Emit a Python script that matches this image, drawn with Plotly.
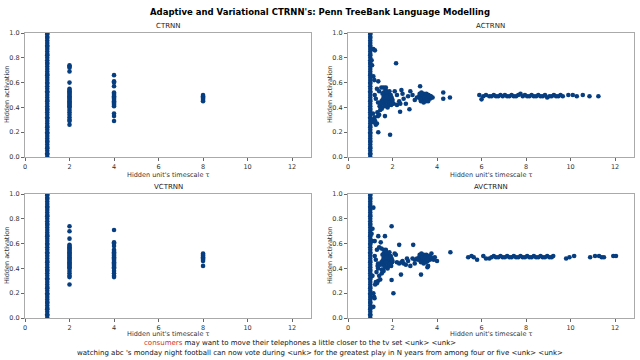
import plotly.graph_objects as go

# ---------------- data ----------------
titles = ["CTRNN", "ACTRNN", "VCTRNN", "AVCTRNN"]

# dense column of units at timescale 1 (all panels)
col_y = [0.00, 0.02, 0.03, 0.05, 0.07, 0.08, 0.10, 0.12, 0.13, 0.15, 0.17, 0.19, 0.20,
         0.22, 0.24, 0.25, 0.27, 0.29, 0.31, 0.32, 0.34, 0.36, 0.38, 0.39, 0.41, 0.43,
         0.45, 0.46, 0.48, 0.50, 0.52, 0.53, 0.55, 0.57, 0.59, 0.60, 0.62, 0.64, 0.66,
         0.67, 0.69, 0.71, 0.73, 0.75, 0.76, 0.78, 0.80, 0.82, 0.83, 0.85, 0.87, 0.89,
         0.90, 0.92, 0.94, 0.96, 0.97, 0.99, 1.00]

# CTRNN
ct_tau2_y = [0.74, 0.73, 0.72, 0.69, 0.60, 0.55, 0.54, 0.53, 0.52, 0.51, 0.50, 0.49, 0.48,
             0.47, 0.46, 0.45, 0.44, 0.43, 0.42, 0.41, 0.40, 0.38, 0.36, 0.34, 0.32, 0.30,
             0.29, 0.26]
ct_tau4_y = [0.66, 0.61, 0.60, 0.57, 0.52, 0.51, 0.50, 0.49, 0.48, 0.47, 0.46, 0.45, 0.44,
             0.43, 0.42, 0.41, 0.35, 0.33, 0.29]
ct_tau8_y = [0.50, 0.49, 0.48, 0.47, 0.46, 0.45]

# VCTRNN
vct_tau2_y = [0.74, 0.70, 0.64, 0.59, 0.58, 0.57, 0.56, 0.55, 0.54, 0.53, 0.52, 0.51, 0.50,
              0.49, 0.48, 0.47, 0.46, 0.45, 0.44, 0.43, 0.42, 0.41, 0.40, 0.38, 0.36, 0.34,
              0.33, 0.27]
vct_tau4_y = [0.71, 0.61, 0.60, 0.58, 0.55, 0.54, 0.53, 0.52, 0.51, 0.50, 0.49, 0.48, 0.47,
              0.46, 0.45, 0.44, 0.43, 0.42, 0.41, 0.40, 0.38, 0.36, 0.34, 0.33]
vct_tau8_y = [0.52, 0.51, 0.50, 0.49, 0.48, 0.47, 0.46, 0.42]

# ACTRNN (learned timescales)
act_tau = [1.14, 1.21, 1.06, 1.08, 1.14, 1.18, 1.36, 2.16, 1.89, 1.36, 3.24, 4.28, 4.28,
           4.58, 2.34, 2.76, 1.66, 6.00, 5.90,
           1.10, 1.15, 1.20, 1.25, 1.30, 1.35, 1.40, 1.45, 1.50, 1.12, 1.22, 1.32, 1.42,
           1.20, 1.30, 1.40, 1.50, 1.60, 1.70, 1.25, 1.35,
           1.55, 1.60, 1.65, 1.70, 1.75, 1.80, 1.85, 1.90, 1.95, 1.60, 1.65, 1.70, 1.75,
           1.80, 1.85, 1.90, 1.58, 1.68, 1.78, 1.88, 1.98, 1.62, 1.72, 1.82, 1.92, 1.50,
           1.55, 1.66, 1.76, 1.86, 1.96, 1.45, 1.52, 1.64, 1.74, 1.84, 1.94, 2.00, 1.70,
           2.10, 2.20, 2.30, 2.40, 2.45, 2.50, 2.60, 2.70, 2.80, 2.90, 3.00, 2.35, 2.20, 2.05,
           3.20, 3.25, 3.30, 3.35, 3.40, 3.45, 3.50, 3.55, 3.60, 3.65, 3.70, 3.75, 3.80,
           3.22, 3.28, 3.32, 3.38, 3.42, 3.48, 3.52, 3.58, 3.62, 3.68, 3.72, 3.30, 3.40,
           3.50, 3.60, 3.35, 3.45, 3.55, 3.25, 3.65, 3.10,
           6.08, 6.20, 6.35, 6.45, 6.55, 6.65, 6.75, 6.85, 6.95, 7.05, 7.15, 7.25, 7.35,
           7.45, 7.55, 7.65, 7.75, 7.85, 7.95, 8.05, 8.15, 8.25, 8.35, 8.45, 8.55, 8.65,
           8.75, 8.85, 8.95, 9.05, 9.15, 9.25, 9.35, 9.45, 9.55, 9.65, 9.90, 10.10, 10.28,
           10.55, 10.85, 11.25]
act_h = [0.87, 0.86, 0.78, 0.74, 0.65, 0.62, 0.61, 0.756, 0.18, 0.20, 0.57, 0.52, 0.47,
         0.48, 0.365, 0.385, 0.33, 0.465, 0.50,
         0.30, 0.28, 0.32, 0.26, 0.27, 0.33, 0.34, 0.38, 0.40, 0.35, 0.29, 0.36, 0.41,
         0.50, 0.55, 0.53, 0.56, 0.56, 0.56, 0.47, 0.44,
         0.46, 0.48, 0.44, 0.50, 0.45, 0.47, 0.43, 0.49, 0.46, 0.52, 0.42, 0.46, 0.48,
         0.51, 0.45, 0.44, 0.43, 0.54, 0.40, 0.47, 0.45, 0.49, 0.53, 0.42, 0.50, 0.45,
         0.51, 0.41, 0.47, 0.53, 0.48, 0.43, 0.39, 0.47, 0.49, 0.44, 0.42, 0.46, 0.45,
         0.53, 0.50, 0.45, 0.54, 0.51, 0.47, 0.43, 0.49, 0.53, 0.50, 0.46, 0.43, 0.42, 0.43,
         0.49, 0.47, 0.50, 0.48, 0.51, 0.46, 0.49, 0.47, 0.50, 0.48, 0.49, 0.48, 0.48,
         0.51, 0.45, 0.48, 0.50, 0.47, 0.49, 0.51, 0.46, 0.50, 0.47, 0.49, 0.52, 0.44,
         0.45, 0.45, 0.49, 0.48, 0.47, 0.47, 0.49, 0.48,
         0.49, 0.50, 0.49, 0.49, 0.50, 0.49, 0.49, 0.50, 0.49, 0.50, 0.49, 0.49, 0.50,
         0.49, 0.49, 0.50, 0.51, 0.49, 0.50, 0.49, 0.49, 0.50, 0.49, 0.49, 0.50, 0.49,
         0.49, 0.50, 0.48, 0.49, 0.49, 0.50, 0.49, 0.49, 0.50, 0.49, 0.50, 0.50, 0.49,
         0.50, 0.49, 0.49]

# AVCTRNN (learned timescales)
avct_tau = [1.14, 1.10, 1.06, 1.10, 1.20, 1.36, 1.66, 1.47, 1.96, 2.30, 2.93, 1.96, 2.04,
            1.14, 1.17, 1.19, 1.14, 1.10, 2.38, 3.28, 3.57, 4.60, 4.00, 3.00,
            1.30, 1.36, 1.45, 1.22, 1.52, 1.60, 1.25, 1.40, 1.35, 1.28, 1.33,
            1.20, 1.30, 1.40, 1.50, 1.60, 1.70, 1.25, 1.35,
            1.55, 1.60, 1.65, 1.70, 1.75, 1.80, 1.85, 1.90, 1.95, 1.60, 1.65, 1.70, 1.75,
            1.80, 1.85, 1.90, 1.58, 1.68, 1.78, 1.88, 1.98, 1.62, 1.72, 1.82, 1.92, 1.50,
            1.55, 1.66, 1.76, 1.86, 1.96, 1.45, 1.52, 1.64, 1.74, 1.84, 1.94, 2.00, 1.70,
            2.10, 2.20, 2.30, 2.40, 2.50, 2.60, 2.70, 2.80, 2.90, 3.00, 2.15, 2.45, 2.65,
            3.20, 3.25, 3.30, 3.35, 3.40, 3.45, 3.50, 3.55, 3.60, 3.65, 3.70, 3.75, 3.80,
            3.22, 3.28, 3.32, 3.38, 3.42, 3.48, 3.52, 3.58, 3.62, 3.68, 3.72, 3.30, 3.40,
            3.50, 3.60, 3.35, 3.45, 3.55, 3.85, 3.90, 3.10, 3.15,
            5.40, 5.55, 5.80, 5.65, 6.08, 6.20, 6.35, 6.45, 6.55, 6.65, 6.75, 6.85, 6.95,
            7.05, 7.15, 7.25, 7.35, 7.45, 7.55, 7.65, 7.75, 7.85, 7.95, 8.05, 8.15, 8.25,
            8.35, 8.45, 8.55, 8.65, 8.75, 8.85, 8.95, 9.05, 9.15, 9.22, 9.80, 9.95, 10.16,
            10.88, 11.10, 11.28, 11.40, 11.50, 11.92, 12.04]
avct_h = [0.89, 0.72, 0.68, 0.62, 0.62, 0.66, 0.66, 0.61, 0.74, 0.59, 0.59, 0.306, 0.20,
          0.20, 0.17, 0.16, 0.09, 0.34, 0.35, 0.35, 0.41, 0.53, 0.46, 0.44,
          0.28, 0.30, 0.31, 0.27, 0.36, 0.38, 0.29, 0.34, 0.40, 0.37, 0.42,
          0.50, 0.55, 0.57, 0.56, 0.55, 0.55, 0.47, 0.44,
          0.46, 0.48, 0.44, 0.50, 0.45, 0.47, 0.43, 0.49, 0.46, 0.52, 0.42, 0.46, 0.48,
          0.51, 0.45, 0.44, 0.43, 0.54, 0.40, 0.47, 0.45, 0.49, 0.53, 0.42, 0.50, 0.45,
          0.51, 0.41, 0.47, 0.53, 0.48, 0.43, 0.39, 0.47, 0.49, 0.44, 0.42, 0.46, 0.45,
          0.52, 0.45, 0.44, 0.45, 0.44, 0.43, 0.46, 0.42, 0.48, 0.47, 0.51, 0.46, 0.48,
          0.49, 0.47, 0.50, 0.48, 0.51, 0.46, 0.49, 0.47, 0.50, 0.48, 0.49, 0.52, 0.48,
          0.51, 0.45, 0.48, 0.50, 0.47, 0.49, 0.51, 0.46, 0.50, 0.47, 0.49, 0.52, 0.44,
          0.45, 0.42, 0.49, 0.48, 0.47, 0.47, 0.49, 0.48, 0.47, 0.49, 0.50,
          0.47, 0.49, 0.50, 0.48, 0.48, 0.49, 0.50, 0.49, 0.49, 0.50, 0.49, 0.49, 0.50,
          0.49, 0.49, 0.50, 0.49, 0.49, 0.50, 0.49, 0.49, 0.50, 0.49, 0.49, 0.50, 0.49,
          0.49, 0.50, 0.49, 0.49, 0.50, 0.49, 0.49, 0.50, 0.48, 0.49, 0.50, 0.49, 0.50,
          0.50, 0.49, 0.49, 0.50, 0.50, 0.50, 0.50]

x_title = "Hidden unit's timescale τ"
y_title = "Hidden activation"
line1 = "<span style='color:#d0302a'>consumers</span> may want to move their telephones a little closer to the tv set &lt;unk&gt; &lt;unk&gt;"
line2 = "watching abc 's monday night football can now vote during &lt;unk&gt; for the greatest play in N years from among four or five &lt;unk&gt; &lt;unk&gt;"

# ---------------- figure ----------------
COLOR = "#073e80"
FONT = "DejaVu Sans"

panels = [
    ([1] * len(col_y) + [2] * len(ct_tau2_y) + [4] * len(ct_tau4_y) + [8] * len(ct_tau8_y),
     col_y + ct_tau2_y + ct_tau4_y + ct_tau8_y),
    ([1.0] * len(col_y) + act_tau, col_y + act_h),
    ([1] * len(col_y) + [2] * len(vct_tau2_y) + [4] * len(vct_tau4_y) + [8] * len(vct_tau8_y),
     col_y + vct_tau2_y + vct_tau4_y + vct_tau8_y),
    ([1.0] * len(col_y) + avct_tau, col_y + avct_h),
]

W, H = 640, 360


def px(xp):
    return xp / W


def py(yp):
    return 1 - yp / H


left_px = [(25, 311), (348, 634), (25, 311), (348, 634)]
top_px = [(33, 157), (33, 157), (194, 318), (194, 318)]
xtitle_gap = [17.5, 17.5, 15.5, 15.5]
xdoms = [(px(a), px(b)) for a, b in left_px]
ydoms = [(py(b), py(a)) for a, b in top_px]

fig = go.Figure()
layout = {}
annotations = []
for i, (xs, ys) in enumerate(panels):
    n = "" if i == 0 else str(i + 1)
    fig.add_trace(go.Scatter(
        x=xs, y=ys, mode="markers",
        marker=dict(size=4.6, color=COLOR, line=dict(width=0)),
        xaxis="x" + n, yaxis="y" + n, showlegend=False, hoverinfo="skip"))
    layout["xaxis" + n] = dict(
        domain=xdoms[i], range=[0, 12.85], anchor="y" + n, automargin=False,
        tickvals=[0, 2, 4, 6, 8, 10, 12], ticks="outside", ticklen=3,
        tickcolor="#666", tickfont=dict(size=6.5, color="#333", family=FONT),
        showgrid=False, zeroline=False, showline=True, linecolor="#aaa",
        linewidth=1, mirror=True)
    layout["yaxis" + n] = dict(
        domain=ydoms[i], range=[0, 1], anchor="x" + n, automargin=False,
        tickvals=[0, 0.2, 0.4, 0.6, 0.8, 1.0], tickformat=".1f", ticks="outside",
        ticklen=3, tickcolor="#666", tickfont=dict(size=6.5, color="#333", family=FONT),
        showgrid=False, zeroline=False, showline=True, linecolor="#aaa",
        linewidth=1, mirror=True)
    cx = (xdoms[i][0] + xdoms[i][1]) / 2
    annotations.append(dict(
        text=titles[i], xref="paper", yref="paper",
        x=cx, y=ydoms[i][1], yshift=1,
        xanchor="center", yanchor="bottom", showarrow=False,
        font=dict(size=7, color="#222", family=FONT)))
    annotations.append(dict(
        text=x_title, xref="paper", yref="paper",
        x=cx, y=py(top_px[i][1] + xtitle_gap[i]), xanchor="center", yanchor="middle",
        showarrow=False, font=dict(size=6.5, color="#333", family=FONT)))
    annotations.append(dict(
        text=y_title, xref="paper", yref="paper", textangle=-90,
        x=px(left_px[i][0] - 18), y=(ydoms[i][0] + ydoms[i][1]) / 2,
        xanchor="center", yanchor="middle",
        showarrow=False, font=dict(size=6.5, color="#333", family=FONT)))

annotations.append(dict(
    text="<b>Adaptive and Variational CTRNN's: Penn TreeBank Language Modelling</b>",
    xref="paper", yref="paper", x=px(320), y=py(12), xanchor="center", yanchor="middle",
    showarrow=False, font=dict(size=8.5, color="#000", family=FONT)))
annotations.append(dict(
    text=line1, xref="paper", yref="paper", x=px(300), y=py(342.5),
    xanchor="center", yanchor="middle", showarrow=False,
    font=dict(size=7, color="#111", family=FONT)))
annotations.append(dict(
    text=line2, xref="paper", yref="paper", x=px(320), y=py(353),
    xanchor="center", yanchor="middle", showarrow=False,
    font=dict(size=7, color="#111", family=FONT)))

fig.update_layout(
    width=W, height=H, margin=dict(l=0, r=0, t=0, b=0),
    paper_bgcolor="white", plot_bgcolor="white",
    font=dict(family=FONT), annotations=annotations, **layout)

fig.write_html(
    "out.html",
    config={"displayModeBar": False},
    post_script="document.body.style.margin='0';document.body.style.overflow='hidden';")
